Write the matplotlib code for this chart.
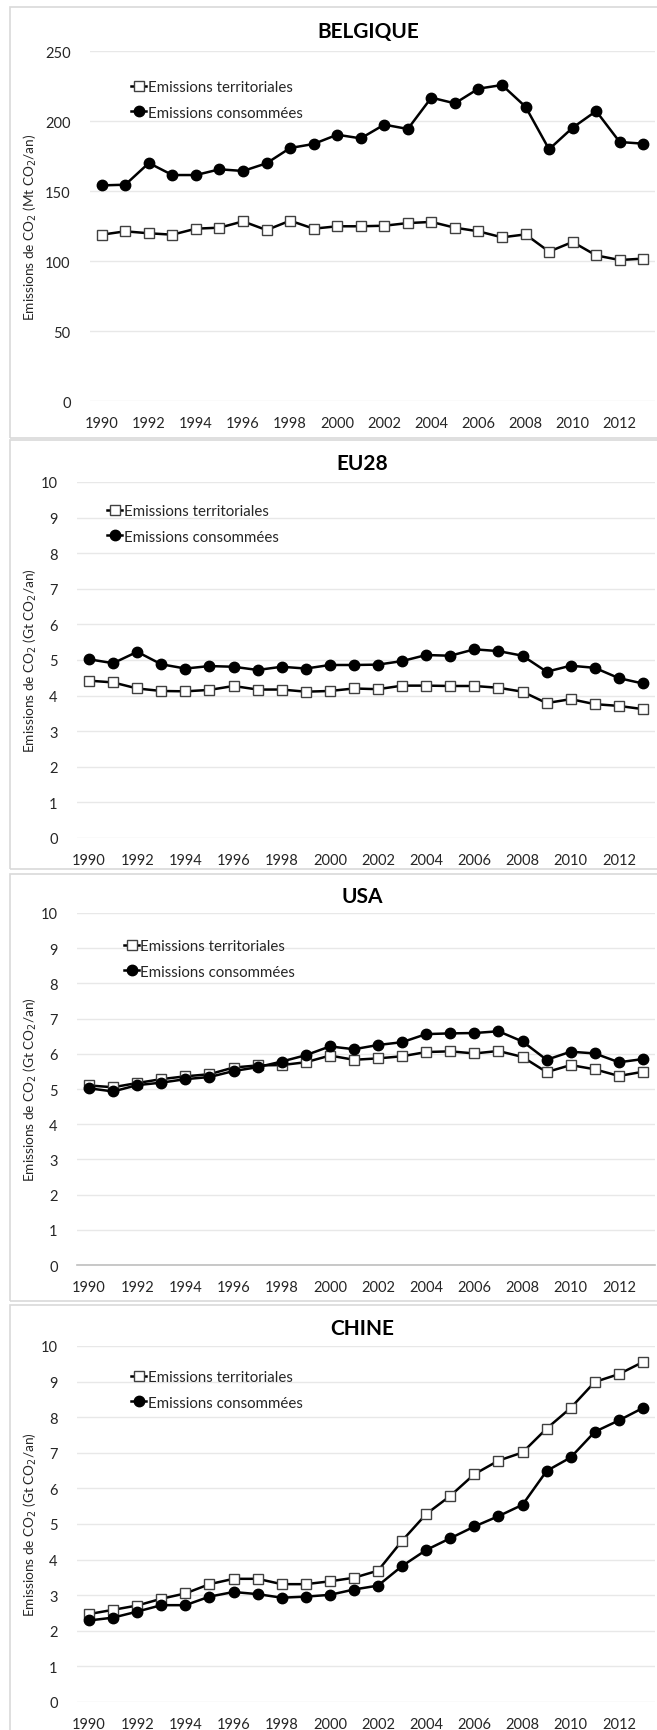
import matplotlib
matplotlib.use("Agg")
import matplotlib.pyplot as plt
from matplotlib.patches import Rectangle

plt.rcParams['font.family'] = ['Lato', 'DejaVu Sans']

years = list(range(1990, 2014))

# Belgique (Mt CO2/an)
bel_terr = [118.8, 121.2, 119.8, 118.8, 123.1, 123.8, 128.3, 122.1, 128.8, 123.1, 124.8, 124.8,
            125.2, 127.1, 127.9, 123.8, 121.2, 116.9, 119.0, 106.7, 113.6, 104.0, 100.7, 101.7]
bel_cons = [154.0, 154.5, 170.0, 161.4, 161.4, 165.5, 164.3, 169.8, 180.7, 183.6, 190.2, 187.6,
            197.4, 194.3, 216.7, 212.6, 223.1, 225.7, 210.2, 179.8, 195.2, 207.1, 185.0, 183.8]

# EU28 (Gt CO2/an)
eu_terr = [4.42, 4.37, 4.20, 4.13, 4.12, 4.16, 4.27, 4.17, 4.17, 4.11, 4.13, 4.20,
           4.18, 4.28, 4.28, 4.27, 4.27, 4.22, 4.11, 3.79, 3.90, 3.76, 3.71, 3.62]
eu_cons = [5.02, 4.91, 5.23, 4.88, 4.76, 4.83, 4.81, 4.72, 4.81, 4.76, 4.86, 4.86,
           4.87, 4.97, 5.14, 5.12, 5.30, 5.25, 5.12, 4.67, 4.84, 4.78, 4.49, 4.34]

# USA (Gt CO2/an)
usa_terr = [5.10, 5.05, 5.17, 5.28, 5.36, 5.42, 5.61, 5.67, 5.68, 5.76, 5.95, 5.83,
            5.87, 5.93, 6.05, 6.07, 6.01, 6.08, 5.91, 5.48, 5.68, 5.56, 5.37, 5.49]
usa_cons = [5.02, 4.93, 5.11, 5.18, 5.28, 5.34, 5.51, 5.62, 5.78, 5.96, 6.21, 6.13,
            6.25, 6.33, 6.56, 6.58, 6.59, 6.64, 6.35, 5.83, 6.06, 6.01, 5.76, 5.85]

# Chine (Gt CO2/an)
chn_terr = [2.47, 2.59, 2.71, 2.90, 3.05, 3.31, 3.46, 3.46, 3.31, 3.31, 3.39, 3.49,
            3.69, 4.53, 5.28, 5.79, 6.40, 6.78, 7.01, 7.68, 8.26, 8.99, 9.21, 9.55]
chn_cons = [2.29, 2.37, 2.54, 2.72, 2.72, 2.96, 3.09, 3.03, 2.93, 2.96, 3.01, 3.16,
            3.27, 3.82, 4.27, 4.60, 4.93, 5.22, 5.54, 6.49, 6.87, 7.59, 7.91, 8.26]

W, H = 657, 1731
fig = plt.figure(figsize=(W / 100, H / 100), dpi=100)


def fx(px):
    return px / W


def fy(px):
    return 1 - px / H


# panel frames (pixel coords: left, top, bottom)
frames = [(10, 8, 439), (10, 441, 870), (10, 875, 1302), (10, 1306, 1740)]
for left, top, bottom in frames:
    fig.patches.append(Rectangle((fx(left), fy(bottom)), fx(W + 20 - left), (bottom - top) / H,
                                 transform=fig.transFigure, fill=False,
                                 edgecolor='#d9d9d9', linewidth=1.2))

# name, terr, cons, ymax, ystep, unit, axes box (left, top, bottom), title y, legend (x, y)
panels = [
    ('BELGIQUE', bel_terr, bel_cons, 250, 50, 'Mt', (90, 52, 402), 32, (135, 90)),
    ('EU28', eu_terr, eu_cons, 10, 1, 'Gt', (77, 483, 839), 464, (111, 514)),
    ('USA', usa_terr, usa_cons, 10, 1, 'Gt', (77, 914, 1266), 897, (128, 949)),
    ('CHINE', chn_terr, chn_cons, 10, 1, 'Gt', (77, 1347, 1703), 1329, (135, 1380)),
]

right = 655
for name, terr, cons, ymax, ystep, unit, (left, top, bottom), ty, (lx, ly) in panels:
    ax = fig.add_axes([fx(left), fy(bottom), fx(right - left), (bottom - top) / H])
    ax.plot(years, terr, color='black', lw=1.8, marker='s', ms=7.5,
            mfc='white', mec='#404040', mew=1.0, label='Emissions territoriales', zorder=3)
    ax.plot(years, cons, color='black', lw=1.8, marker='o', ms=7.5,
            mfc='black', mec='black', label='Emissions consommées', zorder=3)
    ax.set_xlim(1989.5, 2013.5)
    ax.set_ylim(0, ymax)
    ax.set_yticks(range(0, ymax + 1, ystep))
    ax.set_xticks(years[::2])
    ax.grid(axis='y', color='#e8e8e8', lw=1.0)
    ax.set_axisbelow(True)
    for s in ax.spines.values():
        s.set_visible(False)
    if name == 'USA':
        ax.spines['bottom'].set_visible(True)
        ax.spines['bottom'].set_color('#bfbfbf')
        ax.spines['bottom'].set_linewidth(1.2)
    ax.tick_params(length=0, labelsize=10.5, colors='#262626', pad=14)
    ax.tick_params(axis='x', pad=11)
    ax.set_ylabel('Emissions de CO$_2$ (%s CO$_2$/an)' % unit, fontsize=9.8,
                  color='#262626')
    ax.yaxis.set_label_coords((39 - left) / (right - left), 0.5)
    fig.text(fx((left + right) / 2 - 4), fy(ty), name, ha='center', va='center',
             fontsize=15, fontweight='bold', color='black')
    leg = ax.legend(loc='center left', bbox_to_anchor=(fx(lx - 4), fy(ly + 11)),
                    bbox_transform=fig.transFigure, frameon=False, fontsize=10.8,
                    handlelength=1.0, handletextpad=0.1, labelspacing=0.75,
                    borderaxespad=0, borderpad=0)
    for t in leg.get_texts():
        t.set_color('#262626')

fig.savefig('out.png', dpi=100)
